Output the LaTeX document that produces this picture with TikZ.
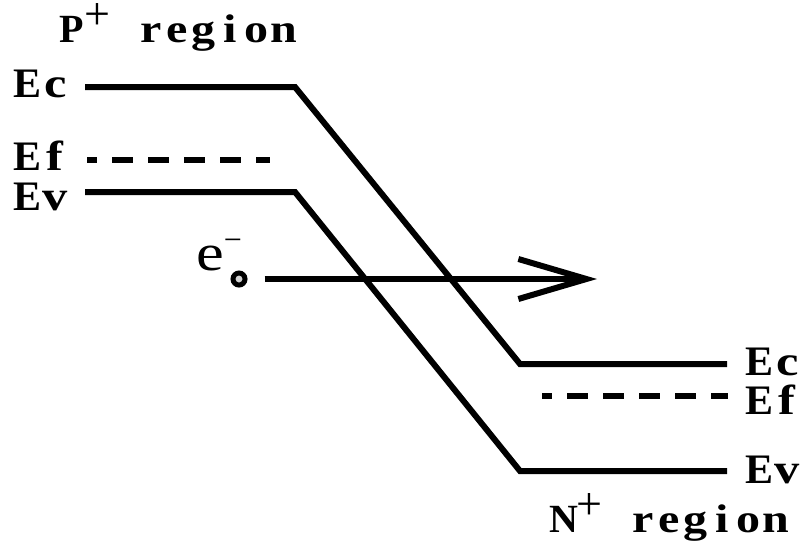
\documentclass[tikz,border=0pt]{standalone}
\usepackage{fontspec}
\usepackage{graphicx}
\setmainfont{Liberation Serif}
\usetikzlibrary{arrows.meta}
% fixed-width character cells, giving the labels an even, typewriter-like spacing
\newlength\cellwd
\newcommand\ch[1]{\makebox[\cellwd][c]{#1}}
% lower-case letters are drawn a little wider than the font gives them
\newcommand\wch[1]{\makebox[\cellwd][c]{\scalebox{1.2}[1]{#1}}}
\tikzset{
  band/.style={line width=6pt, line join=miter},
  fermi/.style={line width=6pt, dash pattern=on 21pt off 15pt, dash phase=11pt},
  levellabel/.style={anchor=base west, inner sep=0pt,
    font=\fontsize{42}{42}\selectfont\bfseries\setlength\cellwd{28pt}},
  regionlabel/.style={anchor=base west, inner sep=0pt,
    font=\fontsize{40}{40}\selectfont\bfseries\setlength\cellwd{26.5pt}},
  motion/.style={line width=6pt, shorten <=17pt,
    -{Straight Barb[length=68pt, width=40pt]}},
}
\newcommand\supplus{\raisebox{13pt}[28pt][0pt]{\fontsize{46}{46}\selectfont\mdseries +}}
\begin{document}
\begin{tikzpicture}[x=1pt, y=-1pt]
  \useasboundingbox (0,0) rectangle (806,542);

  % region titles
  \node[regionlabel] (ptitle) at (58,42)
    {\ch{P}\ch{\supplus}\ch{}\wch{r}\wch{e}\wch{g}\wch{i}\wch{o}\wch{n}};
  \node[regionlabel] (ntitle) at (550,532)
    {\ch{N}\ch{\supplus}\ch{}\wch{r}\wch{e}\wch{g}\wch{i}\wch{o}\wch{n}};

  % conduction and valence band edges across the junction
  \draw[band] (85,87) -- (295,87) -- (520,364) -- (727,364);
  \draw[band] (85,192) -- (295,192) -- (520,471) -- (727,471);

  % Fermi levels on either side
  \draw[fermi] (87,160) -- (270,160);
  \draw[fermi] (542,396) -- (728,396);

  % level labels, P side
  \node[levellabel] (pc) at (13,97)  {\ch{E}\wch{c}};
  \node[levellabel] (pf) at (13,170) {\ch{E}\wch{f}};
  \node[levellabel] (pv) at (13,210) {\ch{E}\wch{v}};

  % level labels, N side
  \node[levellabel] (nc) at (745,375) {\ch{E}\wch{c}};
  \node[levellabel] (nf) at (745,414) {\ch{E}\wch{f}};
  \node[levellabel] (nv) at (745,483) {\ch{E}\wch{v}};

  % the electron and its drift
  \node[anchor=base west, inner sep=0pt, font=\fontsize{52}{52}\selectfont] (elabel)
    at (196,270) {\scalebox{1.2}[1]{e}\raisebox{20pt}{\fontsize{32}{32}\selectfont −}};
  \node[circle, draw, line width=5pt, fill=gray!35, minimum size=12pt,
        inner sep=0pt] (electron) at (239,279) {};
  \coordinate (drift) at (597,279);
  \draw[motion] (electron) -- (drift);
\end{tikzpicture}
\end{document}
